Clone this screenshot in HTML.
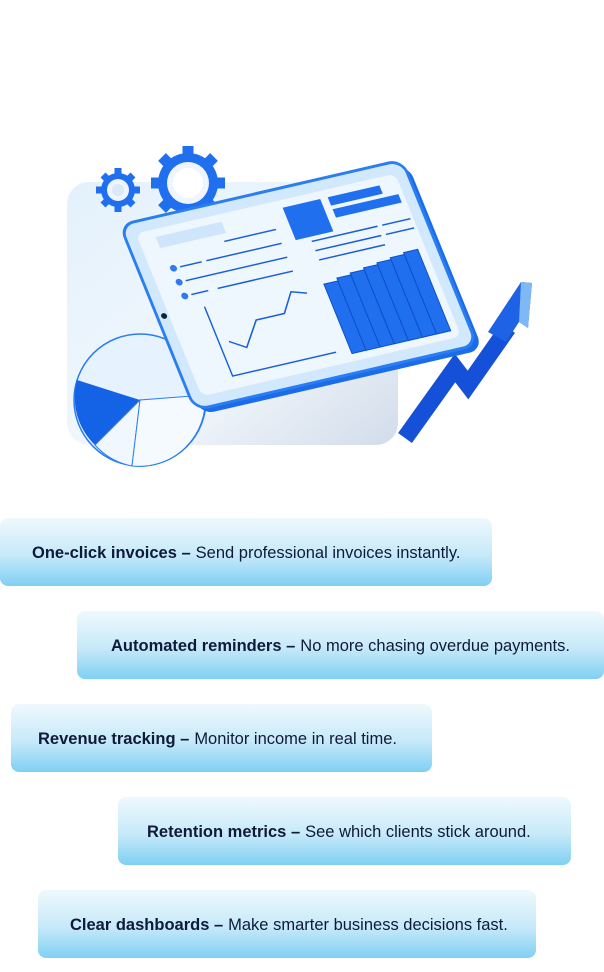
<!DOCTYPE html>
<html><head><meta charset="utf-8"><style>
html,body{margin:0;padding:0;background:#fff;width:604px;height:972px;overflow:hidden;position:relative}
.p{position:absolute;height:68px;border-radius:8px;background:linear-gradient(#eff9fd,#c6e9f9 55%,#7fd0f3);font-family:"Liberation Sans",sans-serif;font-size:16.5px;color:#0e1a3a;display:flex;align-items:center;box-sizing:border-box;white-space:nowrap;padding-top:2px}
.p b{font-weight:700;margin-right:5px}
svg{position:absolute;left:0;top:0}
</style></head><body>
<svg width="604" height="500" viewBox="0 0 604 500">
<defs>
<linearGradient id="bg" x1="0" y1="0" x2="1" y2="1"><stop offset="0" stop-color="#e3f1fc"/><stop offset=".6" stop-color="#f2f7fc"/><stop offset="1" stop-color="#d2dcea"/></linearGradient>
</defs>
<rect x="67" y="182" width="331" height="263" rx="22" fill="url(#bg)"/>
<!-- pie -->
<circle cx="140" cy="400" r="66" fill="#e6f2fd" stroke="#2a7ef0" stroke-width="1.5"/>
<path d="M140,400 L77,380 A66,66 0 0 0 95,445 Z" fill="#1463e6"/>
<path d="M140,400 L95,445 A66,66 0 0 0 132,466 Z" fill="#f0f7fe" stroke="#2a7ef0"/>
<path d="M140,400 L132,466 A66,66 0 0 0 205,395 Z" fill="#f5faff" stroke="#2a7ef0"/>
<!-- arrow -->
<polyline points="405,438 455,368 468,385 508,328" fill="none" stroke="#1550d8" stroke-width="17" stroke-linejoin="miter"/>
<polygon points="488,332 521,282 532,283 528,328 519,322 506,342" fill="#1e62e6"/>
<polygon points="521,282 532,283 528,328 519,322" fill="#7fb8f5"/>
<!-- gears -->
<g fill="#1f6fee">
<circle cx="118" cy="190" r="17"/>
<g stroke="#1f6fee" stroke-width="7">
<line x1="118" y1="168" x2="118" y2="212"/><line x1="96" y1="190" x2="140" y2="190"/><line x1="103" y1="175" x2="133" y2="205"/><line x1="133" y1="175" x2="103" y2="205"/></g>
<circle cx="118" cy="190" r="11" fill="#eef5fe"/>
<circle cx="118" cy="190" r="6" fill="#dbe8f8"/>
<circle cx="188" cy="183" r="30"/>
<g stroke="#1f6fee" stroke-width="11">
<line x1="188" y1="146" x2="188" y2="220"/><line x1="151" y1="183" x2="225" y2="183"/><line x1="162" y1="157" x2="214" y2="209"/><line x1="214" y1="157" x2="162" y2="209"/></g>
<circle cx="188" cy="183" r="21" fill="#eef5fe"/>
<circle cx="188" cy="183" r="15" fill="#fff"/>
</g>
<!-- tablet -->
<g transform="matrix(0.94,-0.217,0.375,0.925,120,225)">
<rect x="0" y="0" width="300" height="200" rx="14" fill="#1a6cec" transform="translate(4,6)"/>
<rect x="0" y="0" width="300" height="200" rx="14" fill="#d2e8fc" stroke="#2a7ef0" stroke-width="3"/>
<rect x="12" y="12" width="276" height="176" rx="8" fill="#eef7fe"/>
<circle cx="7" cy="100" r="3" fill="#123"/>
<rect x="30" y="20" width="70" height="12" fill="#cfe5fb"/>
<g stroke="#1b5fd8" stroke-width="1.5">
<line x1="95" y1="40" x2="150" y2="40"/>
<line x1="42" y1="55" x2="65" y2="55"/><line x1="70" y1="55" x2="150" y2="55"/>
<line x1="42" y1="70" x2="150" y2="70"/>
<line x1="42" y1="85" x2="60" y2="85"/><line x1="70" y1="85" x2="150" y2="85"/>
<line x1="180" y1="60" x2="250" y2="60"/><line x1="255" y1="60" x2="285" y2="60"/>
<line x1="180" y1="70" x2="250" y2="70"/><line x1="255" y1="70" x2="285" y2="70"/>
<line x1="180" y1="80" x2="250" y2="80"/>
<polyline points="50,100 50,175 160,175" fill="none"/>
<polyline points="60,140 75,150 95,125 125,125 140,105 155,110" fill="none"/>
</g>
<g fill="#2f7af0"><circle cx="35" cy="55" r="3.5"/><circle cx="35" cy="70" r="3.5"/><circle cx="35" cy="85" r="3.5"/></g>
<rect x="165" y="20" width="40" height="35" fill="#1f6fee"/>
<rect x="213" y="20" width="55" height="9" fill="#1f6fee"/>
<rect x="213" y="33" width="70" height="9" fill="#1f6fee"/>
<g fill="#1f6fee" stroke="#0d4fc8" stroke-width="1">
<rect x="175" y="105" width="15" height="75"/><rect x="190" y="102" width="15" height="78"/><rect x="205" y="100" width="15" height="80"/><rect x="220" y="98" width="15" height="82"/><rect x="235" y="96" width="15" height="84"/><rect x="250" y="94" width="15" height="86"/><rect x="265" y="92" width="15" height="88"/>
</g>
</g>
</svg>
<div class="p" style="left:0;top:518px;width:492px;padding-left:32px"><b>One-click invoices –</b> Send professional invoices instantly.</div>
<div class="p" style="left:77px;top:611px;width:527px;padding-left:34px"><b>Automated reminders –</b> No more chasing overdue payments.</div>
<div class="p" style="left:11px;top:704px;width:421px;padding-left:27px"><b>Revenue tracking –</b> Monitor income in real time.</div>
<div class="p" style="left:118px;top:797px;width:453px;padding-left:29px"><b>Retention metrics –</b> See which clients stick around.</div>
<div class="p" style="left:38px;top:890px;width:498px;padding-left:32px"><b>Clear dashboards –</b> Make smarter business decisions fast.</div>
</body></html>
